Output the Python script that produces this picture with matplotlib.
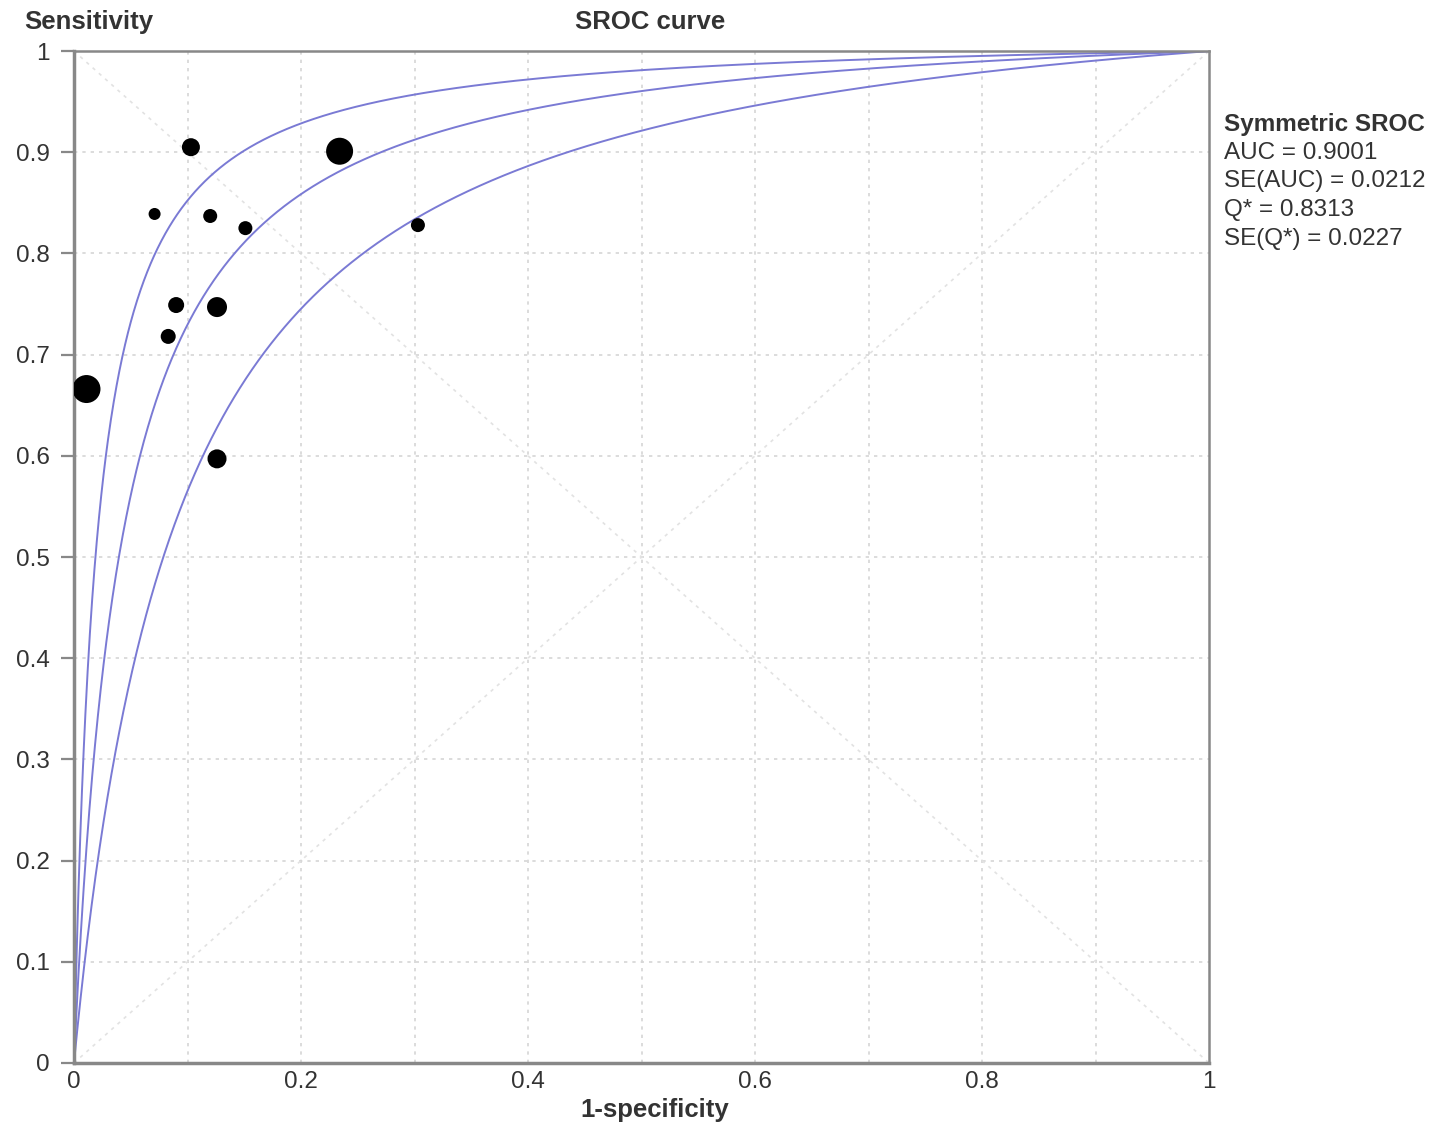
import numpy as np
import matplotlib
matplotlib.use("Agg")
import matplotlib.pyplot as plt

plt.rcParams['font.family'] = ['Liberation Sans', 'DejaVu Sans']

# study points (1-specificity, sensitivity) and relative study weight
fpr = [0.103, 0.234, 0.071, 0.120, 0.151, 0.303, 0.090, 0.126, 0.083, 0.011, 0.126]
sens = [0.905, 0.901, 0.839, 0.837, 0.825, 0.828, 0.749, 0.747, 0.718, 0.666, 0.597]
weight = [18, 27, 12, 14, 14, 14, 16, 20, 15, 28, 19]

# symmetric SROC: log diagnostic odds ratio of upper bound, estimate, lower bound
sroc_lnDOR = [3.95, 3.19, 2.46]

stats_title = "Symmetric SROC"
stats_lines = ["AUC = 0.9001", "SE(AUC) = 0.0212", "Q* = 0.8313", "SE(Q*) = 0.0227"]

fig = plt.figure(figsize=(14.41, 11.37), dpi=100)
ax = fig.add_axes([0.05135, 0.0651, 0.7877, 0.8900])

# grid and diagonals
for v in np.arange(0.1, 1.0, 0.1):
    ax.axvline(v, color='#d6d6d6', lw=1.2, ls=(0, (2, 3)), zorder=0)
    ax.axhline(v, color='#d6d6d6', lw=1.2, ls=(0, (2, 3)), zorder=0)
ax.plot([0, 1], [0, 1], color='#e2e2e2', lw=1.2, ls=(0, (2, 3)), zorder=0)
ax.plot([0, 1], [1, 0], color='#e2e2e2', lw=1.2, ls=(0, (2, 3)), zorder=0)

# SROC curves
x = np.linspace(1e-5, 1, 2000)
for D in sroc_lnDOR:
    y = 1 / (1 + np.exp(-D) * (1 - x) / x)
    ax.plot(np.r_[0, x], np.r_[0, y], color='#7a7ad4', lw=1.4, zorder=2)

sizes = [(w * 0.72) ** 2 for w in weight]
ax.scatter(fpr, sens, s=sizes, color='black', zorder=3, linewidths=0)

ax.set_xlim(0, 1)
ax.set_ylim(0, 1)
ax.set_xticks([0, 0.2, 0.4, 0.6, 0.8, 1])
ax.set_xticklabels(['0', '0.2', '0.4', '0.6', '0.8', '1'])
ax.set_yticks(np.arange(0, 1.01, 0.1))
ax.set_yticklabels(['0', '0.1', '0.2', '0.3', '0.4', '0.5', '0.6', '0.7', '0.8', '0.9', '1'])
ax.tick_params(axis='y', length=9.5, width=1.6, color='#888888', labelsize=17.5,
               labelcolor='#333333', pad=8)
ax.tick_params(axis='x', length=0, labelsize=17.5, labelcolor='#333333', pad=6)
for sp in ax.spines.values():
    sp.set_color('#888888')
    sp.set_linewidth(1.8)
for sp in ['left', 'bottom']:
    ax.spines[sp].set_linewidth(2.5)

fig.text(24 / 1441, 1 - 22 / 1137, "Sensitivity", fontsize=18.5, fontweight='bold',
         color='#333333', ha='left', va='center')
fig.text(650 / 1441, 1 - 22 / 1137, "SROC curve", fontsize=18.5, fontweight='bold',
         color='#333333', ha='center', va='center')
fig.text(655 / 1441, 1 - 1110 / 1137, "1-specificity", fontsize=18.5, fontweight='bold',
         color='#333333', ha='center', va='center')

fig.text(1224 / 1441, 1 - 125 / 1137, stats_title, fontsize=17.5, fontweight='bold',
         color='#333333', ha='left', va='center')
for i, line in enumerate(stats_lines):
    fig.text(1224 / 1441, 1 - (153 + 28.5 * i) / 1137, line, fontsize=17.5,
             color='#333333', ha='left', va='center')

fig.savefig("out.png", dpi=100)
